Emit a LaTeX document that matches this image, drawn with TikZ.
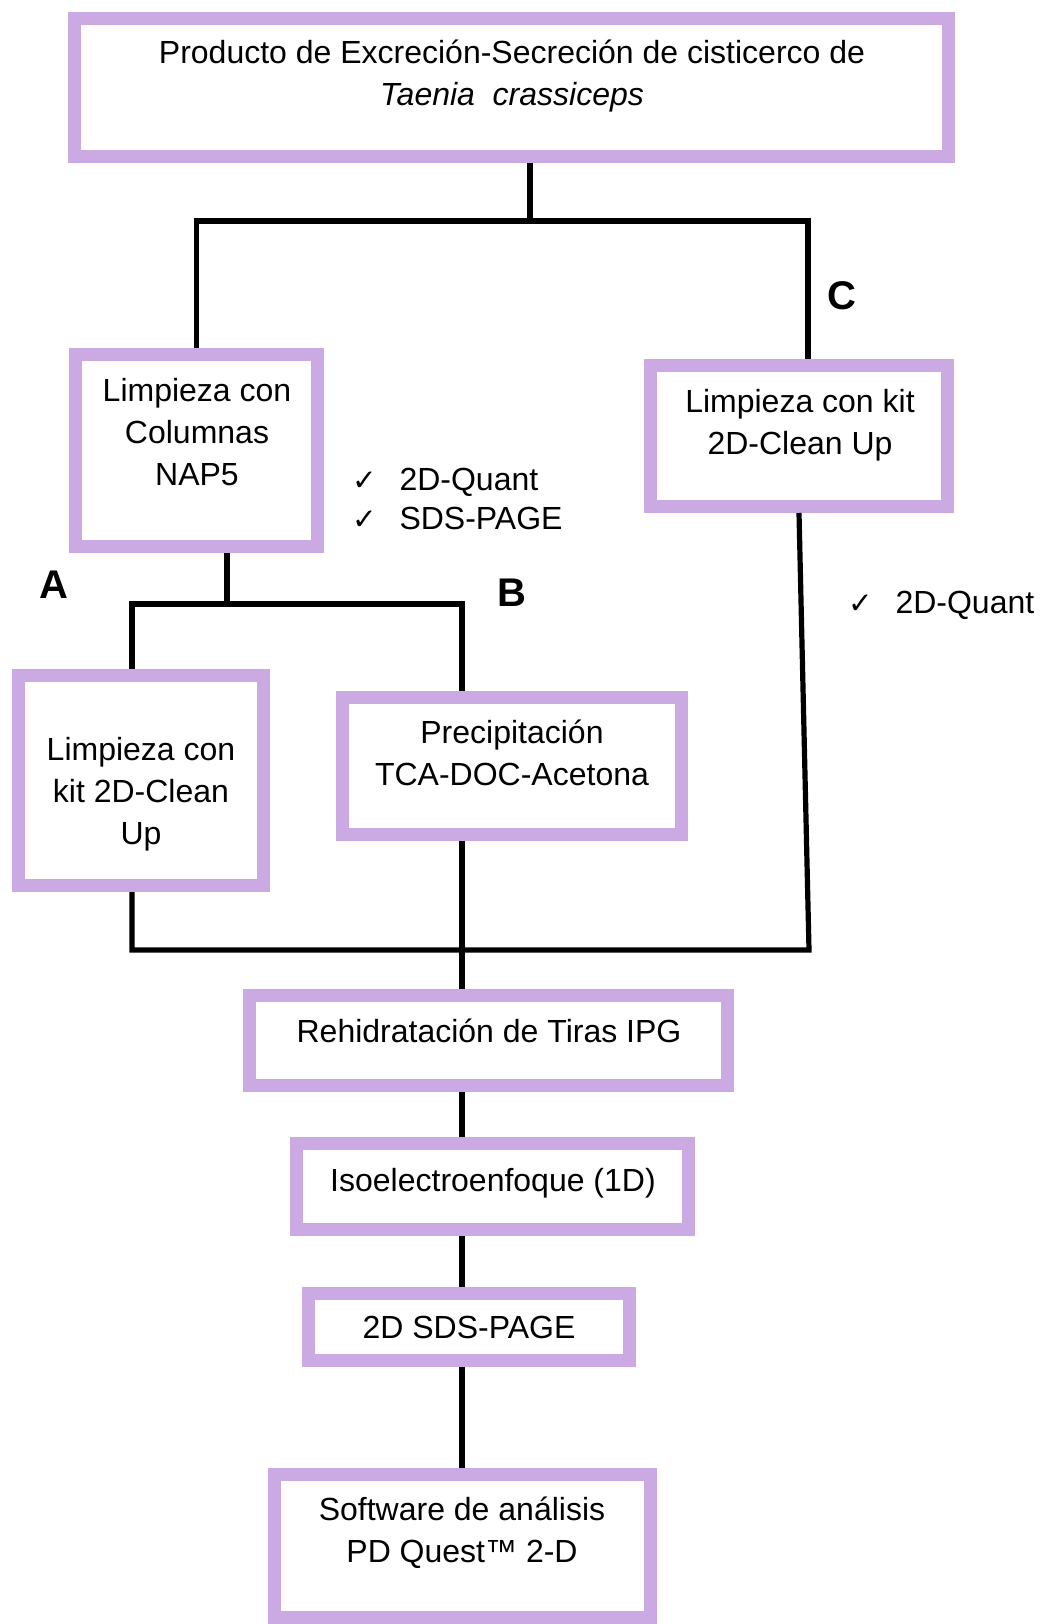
\documentclass[tikz,border=0pt]{standalone}
\usepackage{fontspec}
\setmainfont{Liberation Sans}
\newfontfamily\checkfont{DejaVu Sans}
\usetikzlibrary{positioning,calc}
\definecolor{lila}{HTML}{CBA9E2}

\begin{document}
\begin{tikzpicture}[x=0.75pt, y=-0.75pt,
    caja/.style={draw=lila, line width=9.75pt, fill=white, inner sep=0pt},
    texto/.style={align=center, inner sep=0pt, font=\fontsize{24}{31.5}\selectfont},
    letra/.style={inner sep=0pt, font=\fontsize{30}{36}\selectfont\bfseries},
    nota/.style={anchor=west, inner sep=0pt, font=\fontsize{24}{31.5}\selectfont},
    linea/.style={line width=3.9pt}]
\useasboundingbox (0,0) rectangle (1040,1624);

% cajas
\node[caja, minimum width=874*0.75pt, minimum height=138*0.75pt] (prod) at (511.5,87.5) {};
\node[caja, minimum width=242*0.75pt, minimum height=192*0.75pt] (nap) at (196.5,450.5) {};
\node[caja, minimum width=297*0.75pt, minimum height=141*0.75pt] (limpc) at (799,436) {};
\node[caja, minimum width=245*0.75pt, minimum height=210*0.75pt] (kit) at (141,780.5) {};
\node[caja, minimum width=339*0.75pt, minimum height=137*0.75pt] (prec) at (512,766) {};
\node[caja, minimum width=478*0.75pt, minimum height=90*0.75pt] (rehid) at (488.5,1040.5) {};
\node[caja, minimum width=392*0.75pt, minimum height=86*0.75pt] (iso) at (492.5,1186.5) {};
\node[caja, minimum width=321*0.75pt, minimum height=67*0.75pt] (sds) at (469,1327) {};
\node[caja, minimum width=376*0.75pt, minimum height=143*0.75pt] (soft) at (462.5,1546) {};

% textos
\node[texto] (t-prod) at (512,76.5) {Producto de Excreción-Secreción de cisticerco de\\\textit{Taenia\ \ crassiceps}};
\node[texto] (t-nap) at (197,432) {Limpieza con\\Columnas\\NAP5};
\node[texto] (t-limpc) at (800,425) {Limpieza con kit\\2D-Clean Up};
\node[texto] (t-kit) at (141,794) {Limpieza con\\kit 2D-Clean\\Up};
\node[texto] (t-prec) at (512,753) {Precipitación\\TCA-DOC-Acetona};
\node[texto] (t-rehid) at (489,1031) {Rehidratación de Tiras IPG};
\node[texto] (t-iso) at (493,1183) {Isoelectroenfoque (1D)};
\node[texto] (t-sds) at (469,1327) {2D SDS-PAGE};
\node[texto] (t-soft) at (462,1533) {Software de análisis\\PD Quest™ 2-D};

% notas y letras
\node[nota] (q1) at (352,482) {{\checkfont\fontsize{22}{24}\selectfont ✓}\hspace{17pt}2D-Quant};
\node[nota] (q2) at (352,518) {{\checkfont\fontsize{22}{24}\selectfont ✓}\hspace{17pt}SDS-PAGE};
\node[nota] (q3) at (848,605) {{\checkfont\fontsize{22}{24}\selectfont ✓}\hspace{17pt}2D-Quant};
\node[letra] (la) at (54,585) {A};
\node[letra] (lb) at (512,593) {B};
\node[letra] (lc) at (842,296) {C};

% conectores
\coordinate (j0) at (530,221);
\coordinate (jc) at (808,221);
\draw[linea] (j0 |- prod.south) -- (j0);
\draw[linea] (nap.north) |- (jc) -- (jc |- limpc.north);

\coordinate (jf) at (227,604);
\coordinate (jg) at (132,604);
\coordinate (jh) at (462,604);
\draw[linea] (jf |- nap.south) -- (jf);
\draw[linea] (jg |- kit.north) -- (jg) -- (jh) -- (jh |- prec.north);

\coordinate (jd) at (809,950);
\coordinate (je) at (132,950);
\draw[linea] (limpc.south) -- (jd) -- (je) -- (je |- kit.south);

\draw[linea] (jh |- prec.south) -- (jh |- rehid.north);
\draw[linea] (jh |- rehid.south) -- (jh |- iso.north);
\draw[linea] (jh |- iso.south) -- (jh |- sds.north);
\draw[linea] (jh |- sds.south) -- (jh |- soft.north);
\end{tikzpicture}
\end{document}
